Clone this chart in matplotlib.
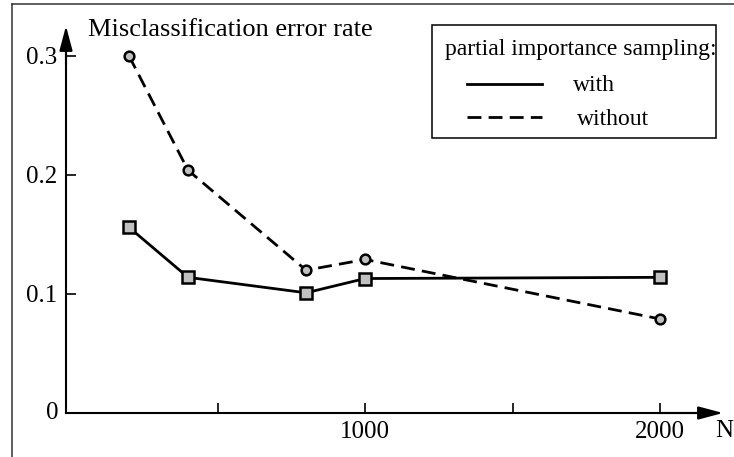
import matplotlib
matplotlib.use("Agg")
import matplotlib.pyplot as plt
from matplotlib.lines import Line2D
from matplotlib.patches import Rectangle

plt.rcParams['font.family'] = ['Liberation Serif', 'DejaVu Serif']
plt.rcParams['mathtext.fontset'] = 'stix'

# data
n_samples = [200, 400, 800, 1000, 2000]
err_with = [0.156, 0.114, 0.101, 0.113, 0.114]
err_without = [0.300, 0.204, 0.120, 0.129, 0.079]

yticks = [0.1, 0.2, 0.3]
yticklabels = ['0.1', '0.2', '0.3']
xticks = [500, 1000, 1500, 2000]
xticklabels = ['', '1000', '', '2000']

W, H = 734, 457
fig = plt.figure(figsize=(W / 100, H / 100), dpi=100)

def px(x, y):
    # pixel (from top-left) -> figure fraction
    return x / W, 1 - y / H

# axes area: y-axis at x=66px, x-axis at y=413px, arrow tips at 723px / 26px
left, bottom = px(66, 413)
right, top = px(723, 26)
ax = fig.add_axes([left, bottom, right - left, top - bottom])
ax.set_xlim(-13.6, 2213)
ax.set_ylim(0, 0.3252)
ax.patch.set_alpha(0)

for s in ['top', 'right']:
    ax.spines[s].set_visible(False)
for s in ['left', 'bottom']:
    ax.spines[s].set_linewidth(1.5)
ax.spines['bottom'].set_bounds(-13.6, 2150)
ax.spines['left'].set_bounds(0, 0.31)

# arrow heads
arw = dict(arrowstyle='-|>,head_length=0.75,head_width=0.2', mutation_scale=20,
           lw=1.5, color='black', shrinkA=0, shrinkB=0)
ax.annotate('', xy=(1, 0), xytext=(0.9, 0), xycoords='axes fraction', arrowprops=arw)
ax.annotate('', xy=(0, 1), xytext=(0, 0.9), xycoords='axes fraction', arrowprops=arw)

ax.set_yticks(yticks)
ax.set_yticklabels(yticklabels)
ax.set_xticks(xticks)
ax.set_xticklabels(xticklabels)
ax.tick_params(direction='in', length=7.5, width=1.2, labelsize=18, pad=6)
ax.tick_params(axis='x', pad=6)
ax.text(-0.012, 0, '0', transform=ax.get_yaxis_transform(), ha='right', va='center',
        fontsize=18)

ax.plot(n_samples, err_with, '-', color='black', lw=2.0, marker='s', ms=8,
        mfc='#c0c0c0', mec='black', mew=1.8, clip_on=False, zorder=3)
ax.plot(n_samples, err_without, color='black', lw=2.0, dashes=(5, 2.6), marker='o', ms=7,
        mfc='#c0c0c0', mec='black', mew=1.8, clip_on=False, zorder=3)

fig.text(*px(88, 36), 'Misclassification error rate', fontsize=19, ha='left', va='baseline')
fig.text(*px(733, 437), 'N', fontsize=18, ha='right', va='baseline')

# hand-drawn legend box
x0, y0 = px(432, 138)
x1, y1 = px(716, 25)
fig.patches.append(Rectangle((x0, y0), x1 - x0, y1 - y0, transform=fig.transFigure,
                             fill=False, ec='black', lw=1.1))
fig.text(*px(445, 55), 'partial importance sampling:', fontsize=17, ha='left', va='baseline')
lx0, ly = px(467, 84)
lx1, _ = px(542, 84)
fig.add_artist(Line2D([lx0, lx1], [ly, ly], color='black', lw=2.0, transform=fig.transFigure))
fig.text(*px(573, 91), 'with', fontsize=17, ha='left', va='baseline')
lx0, ly = px(467, 117)
fig.add_artist(Line2D([lx0, lx1], [ly, ly], color='black', lw=2.0, dashes=(5, 2.6),
                      transform=fig.transFigure))
fig.text(*px(577, 125), 'without', fontsize=17, ha='left', va='baseline')

# outer frame of the original figure (only left and top edges are visible)
fx, fy = px(12, 4)
fig.add_artist(Line2D([fx, fx], [0, fy], color='#333333', lw=1.1, transform=fig.transFigure))
fig.add_artist(Line2D([fx, 1], [fy, fy], color='#333333', lw=1.1, transform=fig.transFigure))

fig.savefig('out.png', dpi=100)
